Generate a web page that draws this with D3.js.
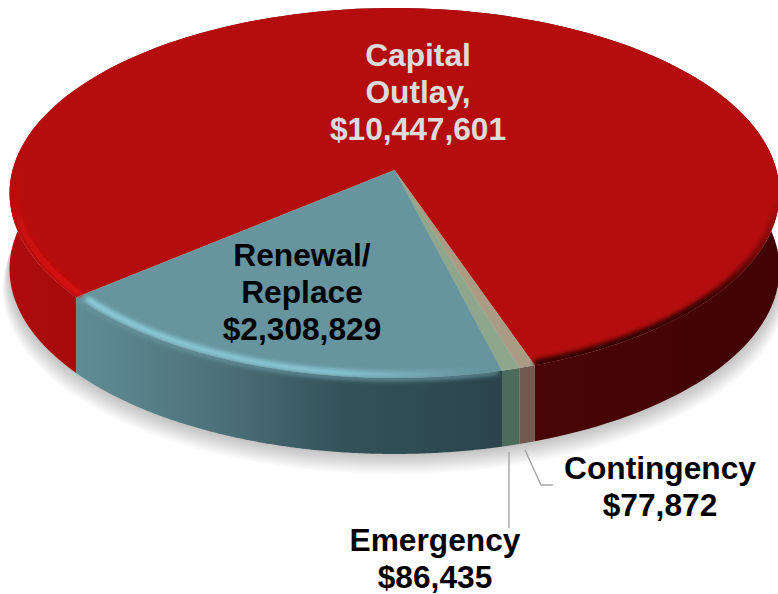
<!DOCTYPE html>
<html>
<head>
<meta charset="utf-8">
<script src="https://cdnjs.cloudflare.com/ajax/libs/d3/7.8.5/d3.min.js"></script>
<style>
  html, body { margin: 0; padding: 0; background: #fff; }
  svg { display: block; }
  text { font-family: "Liberation Sans", Arial, sans-serif; font-weight: 700; text-anchor: middle; }
</style>
</head>
<body>
<svg id="chart" width="778" height="594"></svg>
<script>
// Budget split, clockwise from the large slice
const categories = ["Capital Outlay", "Contingency", "Emergency", "Renewal/Replace"];
const amounts = [10447601, 77872, 86435, 2308829];
const labelLines = [["Capital", "Outlay,"], ["Contingency"], ["Emergency"], ["Renewal/", "Replace"]];

// Appearance per slice, kept apart from the amounts
const topColors = ["#b50d0d", "#a99b84", "#8ea68c", "#66949f"];
const wallStops = [
  [[0, "#ad0c0c"], [0.12, "#a60b0b"], [0.68, "#4a0405"], [1, "#420304"]],
  [[0, "#72594f"], [1, "#72594f"]],
  [[0, "#4d6b5a"], [1, "#4d6b5a"]],
  [[0, "#608c96"], [0.1, "#5a848e"], [0.35, "#4b6f78"], [0.62, "#34525a"], [1, "#2b444c"]]
];
const labelSpots = [
  { x: 418, y: 66, color: "#dcdcdc" },
  { x: 660, y: 479, color: "#000" },
  { x: 435, y: 551, color: "#000" },
  { x: 302, y: 266, color: "#000" }
];
const fontSize = 31.7, lineGap = 37;

const svg = d3.select("#chart");
const defs = svg.append("defs");
const money = d3.format("$,");

// Tilted disc: a unit circle pushed through a perspective mapping
const disc = { cx: 394.5, cy: 170, ax: 382, ay: 161, k: 0.1243 };
const depth = 76;
const project = (a, r = 1) => {
  const u = r * Math.sin(a), v = -r * Math.cos(a), w = 1 - disc.k * v;
  return [disc.cx + disc.ax * u / w, (disc.ay * v + disc.cy) / w];
};
const arcPoints = (a0, a1, r = 1) => d3.range(0, 1.00001, 1 / 160).map(t => project(a0 + (a1 - a0) * t, r));
const line = d3.line();
const radians = d => d * Math.PI / 180;

const pie = d3.pie().sort(null).startAngle(radians(-130)).endAngle(radians(230));
const slices = pie(amounts);
const centre = [disc.cx, disc.cy];

// Gradients for the outer walls, running left to right
slices.forEach((s, i) => {
  const spread = i === 3 ? [79, 503] : [0, 778];
  const g = defs.append("linearGradient").attr("id", "wall" + i)
    .attr("gradientUnits", "userSpaceOnUse")
    .attr("x1", spread[0]).attr("x2", spread[1]).attr("y1", 0).attr("y2", 0);
  wallStops[i].forEach(([o, c]) => g.append("stop").attr("offset", o).attr("stop-color", c));
});

defs.append("filter").attr("id", "edgeBlur").attr("x", "-10%").attr("y", "-10%").attr("width", "120%").attr("height", "120%")
  .append("feGaussianBlur").attr("stdDeviation", 2);

const fade = (id, attrs, color, stops) => {
  const g = defs.append("linearGradient").attr("id", id).attr("gradientUnits", "userSpaceOnUse");
  Object.entries(attrs).forEach(([k, v]) => g.attr(k, v));
  stops.forEach(([o, a]) => g.append("stop").attr("offset", o).attr("stop-color", color).attr("stop-opacity", a));
};
fade("glowRed", { x1: 0, x2: 0, y1: 170, y2: 280 }, "#dc1011", [[0, 0], [1, 1]]);
fade("glowTeal", { x1: 80, x2: 480, y1: 0, y2: 0 }, "#90d2de", [[0, 1], [0.65, 0.85], [1, 0]]);
fade("shade", { x1: 0, x2: 0, y1: 200, y2: 300 }, "#2a0001", [[0, 0], [1, 0.9]]);

const rim = arcPoints(0, 2 * Math.PI);
defs.append("clipPath").attr("id", "faceClip").append("path").attr("d", line(rim) + "Z");

// Drop shadow: stacked translucent outlines that spread past the wall's lower edge
const shadowSteps = d3.range(1, 11);
svg.append("g").selectAll("path").data(shadowSteps).join("path")
  .attr("d", n => line(rim.map(([x, y]) => [
    disc.cx + (x - disc.cx) * (1 + n * 0.0018),
    y + depth + n * 2
  ])) + "Z")
  .attr("fill", "#000").attr("opacity", 0.022);

// Outer walls, large slice first so the small ones sit over it
svg.append("g").selectAll("path").data(slices).join("path")
  .attr("d", s => {
    const edge = arcPoints(s.startAngle, s.endAngle);
    return line(edge.concat(edge.slice().reverse().map(([x, y]) => [x, y + depth]))) + "Z";
  })
  .attr("fill", (s, i) => `url(#wall${i})`);

// Top face
svg.append("g").selectAll("path").data(slices).join("path")
  .attr("d", s => line([centre].concat(arcPoints(s.startAngle, s.endAngle))) + "Z")
  .attr("fill", (s, i) => topColors[i]);

const capital = slices[0], renewal = slices[3];

// Rounded shoulder where the teal face turns into its wall
svg.append("path")
  .attr("d", line(arcPoints(renewal.startAngle + 0.01, renewal.endAngle - 0.01, 1.004)))
  .attr("fill", "none").attr("stroke", topColors[3]).attr("stroke-width", 4)
  .attr("filter", "url(#edgeBlur)");

// Bevel just inside the rim: bright on the left, dark on the right
const bevel = svg.append("g").attr("clip-path", "url(#faceClip)").append("g").attr("filter", "url(#edgeBlur)").attr("fill", "none");
bevel.append("path")
  .attr("d", line(arcPoints(capital.startAngle, capital.startAngle + radians(70), 0.985)))
  .attr("stroke", "url(#glowRed)").attr("stroke-width", 6);
bevel.append("path")
  .attr("d", line(arcPoints(renewal.startAngle + 0.012, renewal.endAngle - 0.02, 0.985)))
  .attr("stroke", "url(#glowTeal)").attr("stroke-width", 6);
bevel.append("path")
  .attr("d", line(arcPoints(radians(70), capital.endAngle)))
  .attr("stroke", "url(#shade)").attr("stroke-width", 11);

// Leader lines for the two thin slices
const leaders = [
  [[525, 450], [541, 485], [553, 485]],
  [[509, 452], [509, 528]]
];
svg.append("g").selectAll("path").data(leaders).join("path")
  .attr("d", line).attr("fill", "none").attr("stroke", "#a6a6a6").attr("stroke-width", 1.4);

// Labels: name lines, then the formatted amount
const labels = svg.append("g").selectAll("text").data(slices).join("text")
  .attr("font-size", fontSize)
  .attr("fill", (s, i) => labelSpots[i].color);
labels.selectAll("tspan")
  .data((s, i) => labelLines[i].concat(money(amounts[i])).map(t => ({ t, i })))
  .join("tspan")
  .attr("x", d => labelSpots[d.i].x)
  .attr("y", (d, j) => labelSpots[d.i].y + j * lineGap)
  .text(d => d.t);
</script>
</body>
</html>
